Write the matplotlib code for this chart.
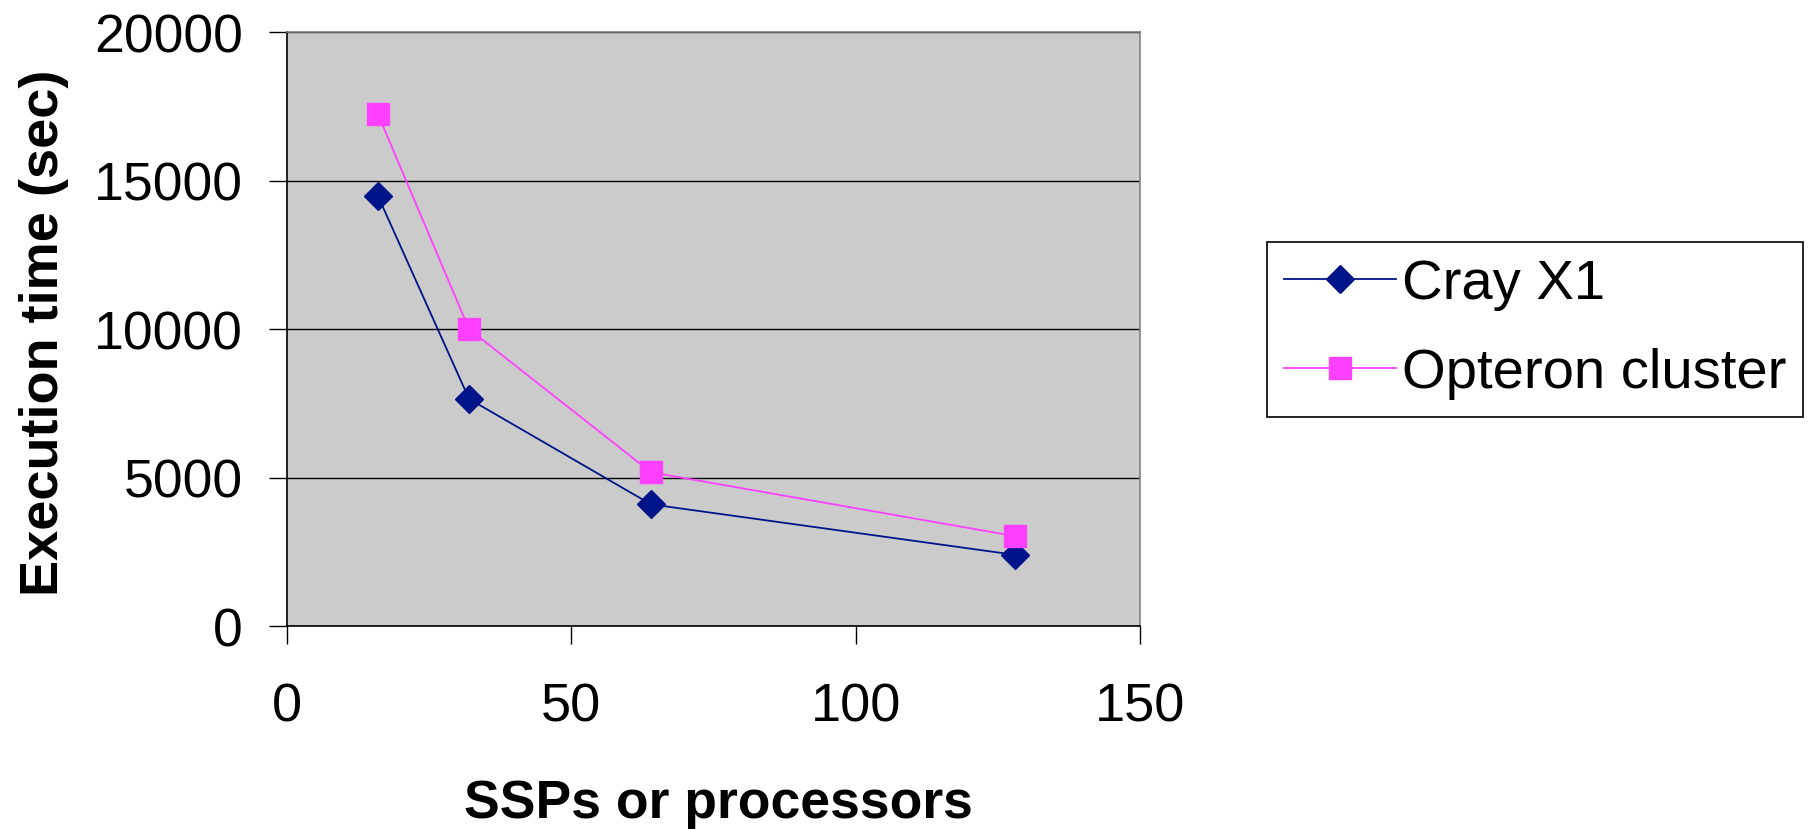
import matplotlib
matplotlib.use("Agg")
import matplotlib.pyplot as plt

# data
procs = [16, 32, 64, 128]
cray_x1 = [14475, 7650, 4100, 2400]
opteron = [17230, 10000, 5180, 3030]

series_names = ["Cray X1", "Opteron cluster"]
x_ticks = [0, 50, 100, 150]
y_ticks = [0, 5000, 10000, 15000, 20000]

plt.rcParams['font.family'] = ['Liberation Sans', 'DejaVu Sans']

fig = plt.figure(figsize=(18.09, 8.295), dpi=100)
ax = fig.add_axes([0.1587, 0.2446, 0.4715, 0.716])
ax.set_facecolor('#CBCBCB')

ax.plot(procs, cray_x1, color='#001489', lw=1.3, marker='D', ms=14,
        label=series_names[0], zorder=3)
ax.plot(procs, opteron, color='#FF40FF', lw=1.3, marker='s', ms=16.5,
        label=series_names[1], zorder=3)

ax.set_xlim(0, 150)
ax.set_ylim(0, 20000)
ax.set_xticks(x_ticks)
ax.set_yticks(y_ticks)
ax.yaxis.grid(True, color='black', lw=1.0)
ax.set_axisbelow(True)

ax.spines['left'].set_color('black')
ax.spines['bottom'].set_color('black')
ax.spines['top'].set_color('#808080')
ax.spines['right'].set_color('#808080')
for s in ax.spines.values():
    s.set_linewidth(1.2)

ax.tick_params(axis='y', direction='out', length=13, width=1, labelsize=38.5, pad=19)
ax.tick_params(axis='x', direction='out', length=13, width=1, labelsize=39, pad=27)

ax.set_xlabel('SSPs or processors', fontsize=38.5, fontweight='bold')
ax.set_ylabel('Execution time (sec)', fontsize=39, fontweight='bold')
ax.xaxis.set_label_coords(0.506, -0.256)
ax.yaxis.set_label_coords(-0.2556, 0.494)

leg = ax.legend(loc='upper left', bbox_to_anchor=(0.7004, 0.708),
                bbox_transform=fig.transFigure, borderaxespad=0,
                fontsize=40.5, handlelength=2.0, handletextpad=0.1,
                borderpad=0.3, labelspacing=0.66, fancybox=False,
                framealpha=1, edgecolor='black')
leg.get_frame().set_linewidth(1.2)

fig.savefig('out.png', dpi=100)
